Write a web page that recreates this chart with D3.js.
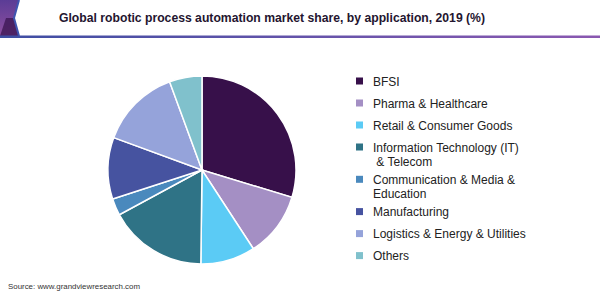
<!DOCTYPE html>
<html>
<head>
<meta charset="utf-8">
<script src="https://cdn.jsdelivr.net/npm/d3@7"></script>
<style>
  body { margin: 0; background: #fff; }
  text { font-family: "Liberation Sans", Arial, sans-serif; }
</style>
</head>
<body>
<div id="chart"></div>
<script>
// values, clockwise from 12 o'clock
var categories = ["BFSI", "Pharma & Healthcare", "Retail & Consumer Goods",
                  "Information Technology (IT)\n & Telecom", "Communication & Media &\nEducation",
                  "Manufacturing", "Logistics & Energy & Utilities", "Others"];
var shares = [29.7, 11.1, 9.4, 16.9, 2.9, 10.6, 13.8, 5.6];
var colors = ["#37104a", "#a48fc4", "#5bcbf5", "#2f7386", "#4a89bd", "#4653a0", "#95a3da", "#80c1cc"];

var W = 600, H = 300;
var svg = d3.select("#chart").append("svg")
    .attr("width", W).attr("height", H);

// header decoration
var defs = svg.append("defs");
var lg = defs.append("linearGradient").attr("id", "hdrLine");
lg.append("stop").attr("offset", "0%").attr("stop-color", "#3e4ea3");
lg.append("stop").attr("offset", "100%").attr("stop-color", "#8a58b0");
var pg = defs.append("linearGradient").attr("id", "hdrCorner")
    .attr("x1", 0).attr("y1", 0).attr("x2", 0).attr("y2", 1);
pg.append("stop").attr("offset", "0%").attr("stop-color", "#5b3c96");
pg.append("stop").attr("offset", "100%").attr("stop-color", "#8e4f9f");

svg.append("path")
    .attr("d", "M0 0 L19 0 L14 18 L19 36 L0 36 Z")
    .attr("fill", "url(#hdrCorner)");
svg.append("path")
    .attr("d", "M0 36 L6 18 L14 18 L19 36 Z")
    .attr("fill", "#3a1450").attr("opacity", 0.75);
svg.append("path")
    .attr("d", "M19 0 L14 18 L19 36")
    .attr("fill", "none").attr("stroke", "#3f55b0").attr("stroke-width", 2);
svg.append("rect")
    .attr("x", 0).attr("y", 35.5).attr("width", W).attr("height", 2.5)
    .attr("fill", "url(#hdrLine)");

// title
svg.append("text")
    .attr("x", 272).attr("y", 22)
    .attr("text-anchor", "middle")
    .attr("font-size", 12.2).attr("font-weight", "bold")
    .attr("fill", "#24152f")
    .text("Global robotic process automation market share, by application, 2019 (%)");

// pie
var cx = 202, cy = 170, R = 94;
var pie = d3.pie().sort(null).value(function(d){ return d; });
var arc = d3.arc().innerRadius(0).outerRadius(R);

svg.append("g")
    .attr("transform", "translate(" + cx + "," + cy + ")")
    .selectAll("path")
    .data(pie(shares))
    .enter().append("path")
    .attr("d", arc)
    .attr("fill", function(d, i){ return colors[i]; })
    .attr("stroke", "#fff")
    .attr("stroke-width", 1.5);

// legend
var legend = svg.append("g").attr("transform", "translate(356,0)");
var y = 81;
categories.forEach(function(name, i) {
    var lines = name.split("\n");
    var item = legend.append("g").attr("transform", "translate(0," + y + ")");
    item.append("rect")
        .attr("x", 0).attr("y", -3.5)
        .attr("width", 7).attr("height", 7)
        .attr("fill", colors[i]);
    var t = item.append("text")
        .attr("x", 17).attr("y", 4.5)
        .attr("font-size", 12).attr("fill", "#222")
        .style("white-space", "pre");
    lines.forEach(function(l, j) {
        t.append("tspan").attr("x", 17).attr("dy", j ? 14 : 0).text(l);
    });
    y += 22 + (lines.length - 1) * 10.3;
});

// source
svg.append("text")
    .attr("x", 8).attr("y", 289)
    .attr("font-size", 7.9).attr("fill", "#333")
    .text("Source: www.grandviewresearch.com");
</script>
</body>
</html>
